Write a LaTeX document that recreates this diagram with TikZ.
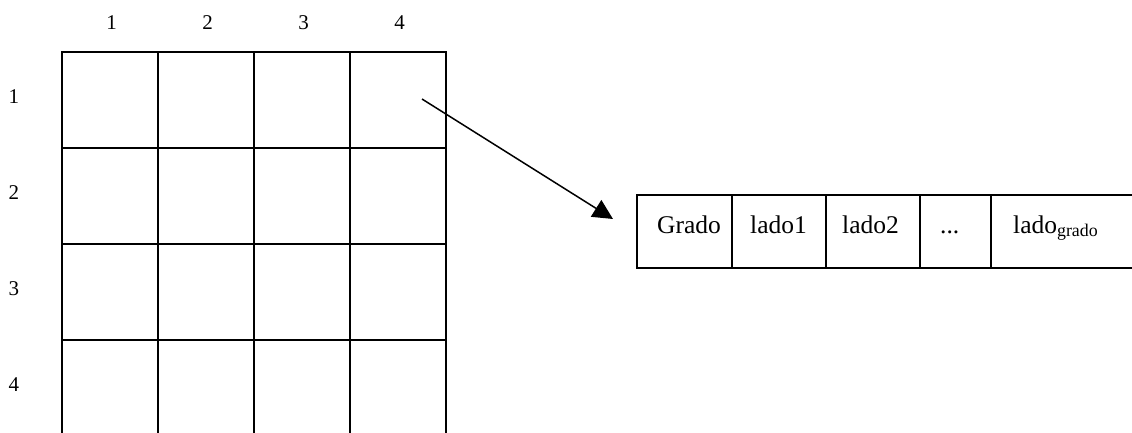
\documentclass[tikz,border=0pt]{standalone}
\usepackage{fontspec}
\setmainfont{Liberation Serif}
\usetikzlibrary{positioning,arrows.meta}

\begin{document}
\begin{tikzpicture}
  [
      x=1pt, y=-1pt,
      cell/.style={rectangle, draw, line width=2pt, outer sep=0pt, inner sep=0pt, minimum width=96pt, minimum height=96pt},
      slot/.style={rectangle, draw, line width=2pt, outer sep=0pt, inner sep=0pt, minimum height=72.5pt, minimum width=#1},
      idx/.style={font=\fontsize{21}{25}\selectfont, inner sep=0pt},
      entry/.style={anchor=base west, font=\fontsize{25.5}{30}\selectfont, inner sep=0pt},
    ]
  \clip (0,0) rectangle (1132,432);

  % matrix of cells with its indices
  \foreach \r in {1,...,4} {
    \foreach \c in {1,...,4} {
      \node (m\r\c) [cell] at (13.5+96*\c, 3.5+96*\r) {};
    }
    \node (col\r) [idx] at (15.5+96*\r, 23) {\r};
    \node (row\r) [idx] at (14, 1+96*\r) {\r};
  }

  % list of sides
  \node (s1) [slot=95pt] at (684.5, 231.4) {};
  \node (s2) [slot=94pt, right=0pt of s1] {};
  \node (s3) [slot=94pt, right=0pt of s2] {};
  \node (s4) [slot=71pt, right=0pt of s3] {};
  \node (s5) [slot=170pt, right=0pt of s4] {};

  \node (t1) [entry] at (657, 233) {Grado};
  \node (t2) [entry] at (750, 233) {lado1};
  \node (t3) [entry] at (842, 233) {lado2};
  \node (t4) [entry] at (940, 233) {...};
  \node (t5) [entry] at (1013, 233) {lado\textsubscript{grado}};

  \coordinate (from) at (422, 99);
  \coordinate (to) at (613, 219);
  \draw [-{Triangle[length=20pt, width=19.5pt]}, line width=1.5pt] (from) -- (to);

\end{tikzpicture}
\end{document}
